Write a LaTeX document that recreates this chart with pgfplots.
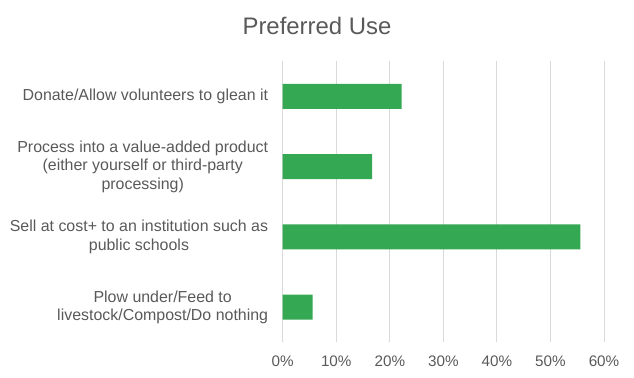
\documentclass[border=0pt]{standalone}
\usepackage{fontspec}
\setmainfont{Liberation Sans}
\usepackage{pgfplots}
\pgfplotsset{compat=1.18}
\definecolor{barGreen}{RGB}{52,168,83}
\definecolor{txt}{RGB}{89,89,89}
\definecolor{gridc}{RGB}{217,217,217}
\begin{document}
\begin{tikzpicture}[x=1bp,y=1bp]
\path (0,0) rectangle (634,377);
\begin{axis}[
  at={(282.7bp,34.9bp)}, anchor=south west,
  scale only axis, width=321.3bp, height=280.7bp,
  xmin=0, xmax=60, ymin=-0.5, ymax=3.5,
  xtick={0,10,20,30,40,50,60},
  xticklabels={0\%,10\%,20\%,30\%,40\%,50\%,60\%},
  ytick={0,1,2,3},
  yticklabels={{Plow under/Feed to\\livestock/Compost/Do nothing},
               {Sell at cost+ to an institution such as\\public schools},
               {Process into a value-added product\\(either yourself or third-party\\processing)},
               {Donate/Allow volunteers to glean it}},
  axis line style={draw=none},
  major tick length=0pt,
  xmajorgrids, ymajorgrids=false,
  grid style={draw=gridc, line width=1bp},
  x tick label style={font=\fontsize{15.3}{18}\selectfont, text=txt, anchor=base, inner sep=0pt, yshift=-24.6bp},
  y tick label style={font=\fontsize{16}{18.3}\selectfont, text=txt, align=center, anchor=east, inner sep=0pt, xshift=-14.4bp},
  clip=false,
]
\addplot[xbar, fill=barGreen, draw=none, bar width=0.356] coordinates {(22.2,3) (16.7,2) (55.6,1) (5.6,0)};
\end{axis}
\node[anchor=base, inner sep=0pt, text=txt, font=\fontsize{24}{28}\selectfont] at (317,343) {Preferred Use};
\end{tikzpicture}
\end{document}
